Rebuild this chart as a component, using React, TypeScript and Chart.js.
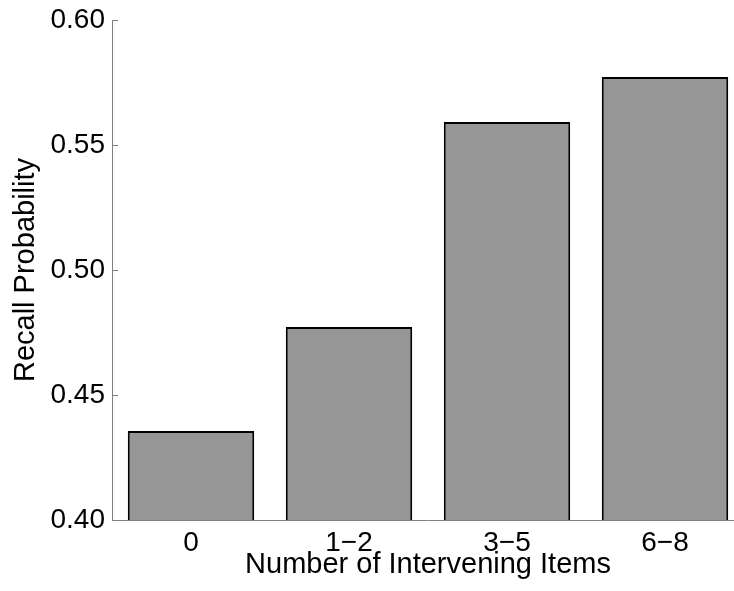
import React, { useEffect, useRef } from "react";
import { Chart, registerables } from "chart.js";

Chart.register(...registerables);

const categories = ["0", "1\u22122", "3\u22125", "6\u22128"];
const recallValues = [0.4356, 0.4772, 0.5592, 0.5772];
const yTickValues = [0.4, 0.45, 0.5, 0.55, 0.6];
const xTitle = "Number of Intervening Items";
const yTitle = "Recall Probability";

const FONT = "'Liberation Sans', Arial, Helvetica, sans-serif";
const AXIS_COLOR = "#808080";

const innerTicks = {
  id: "innerTicks",
  afterDraw(chart: any) {
    const { ctx, chartArea, scales } = chart;
    const y = scales.y;
    ctx.save();
    ctx.strokeStyle = AXIS_COLOR;
    ctx.lineWidth = 1;
    for (const v of yTickValues) {
      const py = Math.round(y.getPixelForValue(v)) + 0.5;
      ctx.beginPath();
      ctx.moveTo(chartArea.left, py);
      ctx.lineTo(chartArea.left + 6, py);
      ctx.stroke();
    }
    ctx.restore();
  },
};

export default function App() {
  const ref = useRef<HTMLCanvasElement>(null);
  useEffect(() => {
    if (!ref.current) return;
    const chart = new Chart(ref.current, {
      type: "bar",
      data: {
        labels: categories,
        datasets: [
          {
            data: recallValues,
            backgroundColor: "#969696",
            borderColor: "#000000",
            borderWidth: 2,
            borderSkipped: false,
            barPercentage: 0.8,
            categoryPercentage: 1,
          },
        ],
      },
      options: {
        animation: false,
        responsive: false,
        maintainAspectRatio: false,
        devicePixelRatio: 1,
        layout: { padding: { left: 0, top: 20, right: 16, bottom: 0 } },
        plugins: { legend: { display: false }, tooltip: { enabled: false } },
        scales: {
          x: {
            type: "category",
            offset: true,
            grid: { display: true, drawOnChartArea: false, drawTicks: false },
            border: { display: true, color: AXIS_COLOR, width: 1 },
            ticks: { color: "#000", font: { family: FONT, size: 28 }, padding: 6, maxRotation: 0 },
            title: {
              display: true,
              text: xTitle,
              color: "#000",
              font: { family: FONT, size: 29 },
              padding: { top: 0, bottom: 9 },
            },
            afterFit: (s: any) => {
              s.height = 71;
            },
          },
          y: {
            min: 0.4,
            max: 0.6,
            afterBuildTicks: (s: any) => {
              s.ticks = yTickValues.map((v) => ({ value: v }));
            },
            grid: { display: true, drawOnChartArea: false, drawTicks: false },
            border: { display: true, color: AXIS_COLOR, width: 1 },
            ticks: {
              color: "#000",
              font: { family: FONT, size: 28, lineHeight: 0.9 },
              padding: 7,
              callback: (v: any) => Number(v).toFixed(2),
            },
            title: {
              display: true,
              text: yTitle,
              color: "#000",
              font: { family: FONT, size: 29 },
              padding: { top: 9, bottom: 0 },
            },
            afterFit: (s: any) => {
              s.width = 112;
            },
          },
        },
      },
      plugins: [innerTicks],
    });
    return () => chart.destroy();
  }, []);
  return (
    <div
      style={{
        position: "fixed",
        left: 0,
        top: 0,
        width: 734,
        height: 591,
        overflow: "hidden",
        background: "#fff",
      }}
    >
      <canvas ref={ref} width={760} height={591} style={{ display: "block", width: 760, height: 591 }} />
    </div>
  );
}
